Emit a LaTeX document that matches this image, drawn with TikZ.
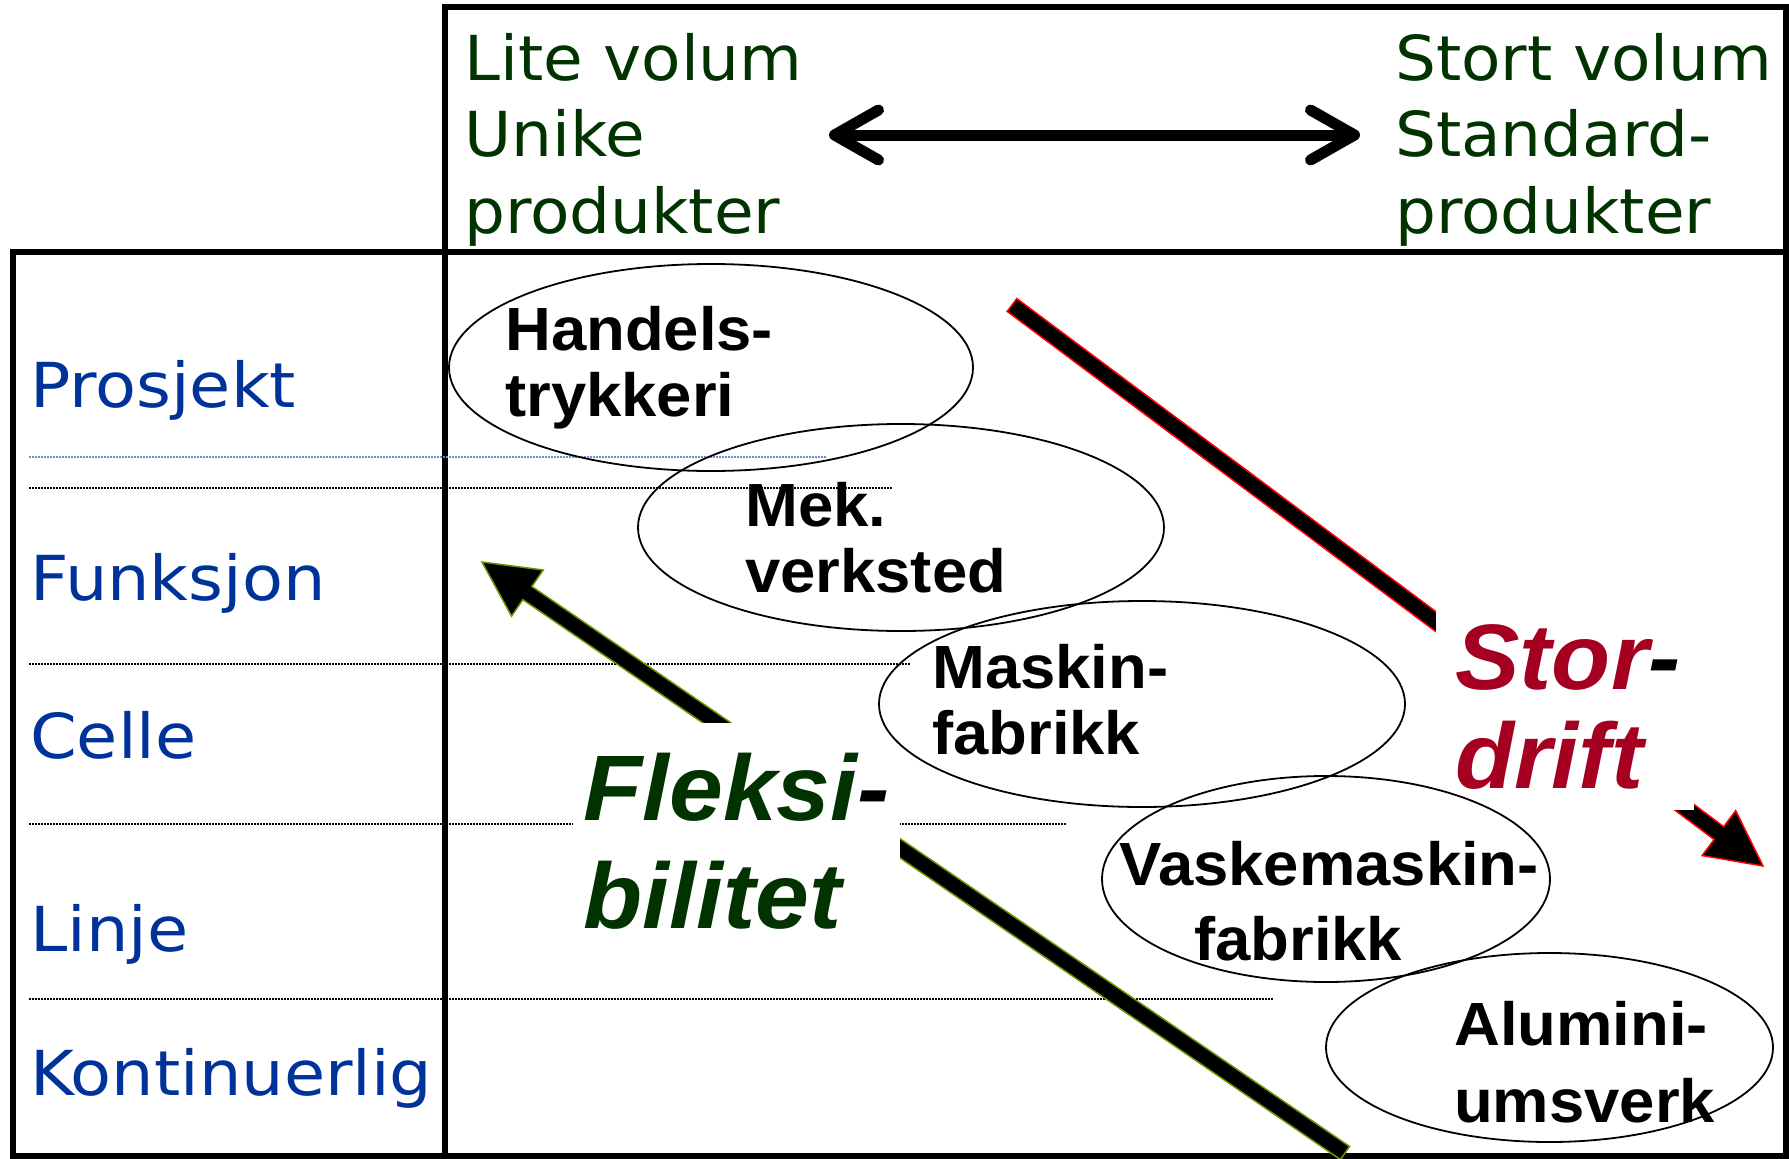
\documentclass[tikz,border=0pt]{standalone}
\usepackage{fontspec}
\usetikzlibrary{arrows.meta,calc,shapes.geometric}
\newfontfamily\headfont{DejaVu Sans}[FakeStretch=1.04]
\newfontfamily\rowfont{DejaVu Sans}[FakeStretch=1.08]
\newfontfamily\boldfont{Liberation Sans}[FakeStretch=1.04]
\definecolor{headgreen}{RGB}{0,51,0}
\definecolor{rowblue}{RGB}{0,51,153}
\definecolor{stordred}{RGB}{165,0,33}
\definecolor{edgegreen}{RGB}{102,153,0}
\definecolor{sepblue}{RGB}{110,140,210}

\begin{document}
\begin{tikzpicture}[x=1pt,y=-1pt,
  frame/.style={line width=6pt, line cap=rect},
  sepline/.style={line width=1.5pt, dash pattern=on 1.5pt off 1.5pt},
  headtext/.style={font=\headfont\fontsize{62}{76.5}\selectfont, text=headgreen,
    inner sep=0pt, anchor=base west, align=left},
  rowlabel/.style={font=\rowfont\fontsize{62}{74}\selectfont, text=rowblue,
    inner sep=0pt, anchor=base west},
  plant/.style={draw, line width=1.8pt, ellipse, inner sep=0pt},
  plantlabel/.style={font=\boldfont\bfseries\fontsize{61}{66}\selectfont,
    inner sep=0pt, anchor=base west, align=left},
  trend/.style={font=\boldfont\bfseries\itshape\fontsize{93}{99}\selectfont,
    align=left, fill=white},
  bigarrow/.style={fill=black, line width=1.5pt, line join=miter}
]
\useasboundingbox (0,0) rectangle (1789,1159);

% table frame
\coordinate (tl) at (445,7);
\coordinate (tr) at (1786,7);
\coordinate (ml) at (13,252);
\coordinate (mr) at (1786,252);
\coordinate (bl) at (13,1156);
\coordinate (bm) at (445,1156);
\coordinate (br) at (1786,1156);
\draw[frame] (tl) -- (tr) -- (br) -- (bl) -- (ml) -- (mr);
\draw[frame] (tl) -- (bm);

% row separators
\draw[sepline, draw=sepblue, line width=2.5pt, dash pattern=on 2pt off 1pt] (29,457) -- (826,457);
\draw[sepline] (29,488) -- (893,488);
\draw[sepline] (29,664) -- (910,664);
\draw[sepline] (29,824) -- (1067,824);
\draw[sepline] (29,999) -- (1274,999);

% column headings (base anchor sits on the last line)
\node[headtext] (lowvol) at (464,233) {Lite volum\\Unike\\produkter};
\node[headtext] (highvol) at (1395,233) {Stort volum\\Standard-\\produkter};
\coordinate (volL) at (829,135);
\coordinate (volR) at (1360,135);
\draw[line width=11pt,
  {Straight Barb[length=44pt,width=50pt,round]}-{Straight Barb[length=44pt,width=50pt,round]}]
  (volL) -- (volR);

% row labels
\node[rowlabel] (prosjekt) at (30,407) {Prosjekt};
\node[rowlabel] (funksjon) at (30,600) {Funksjon};
\node[rowlabel] (celle) at (30,758) {Celle};
\node[rowlabel] (linje) at (30,951) {Linje};
\node[rowlabel] (kontinuerlig) at (30,1095) {Kontinuerlig};

% scale of production: large volume
\coordinate (sdS) at (1012,305);
\coordinate (sdT) at (1763,866);
\coordinate (sdB) at ($(sdT)!55pt!(sdS)$);
\filldraw[bigarrow, draw=red]
  ($(sdS)!8pt!90:(sdT)$) -- ($(sdB)!8pt!90:(sdT)$) -- ($(sdB)!28pt!90:(sdT)$) -- (sdT)
  -- ($(sdB)!28pt!-90:(sdT)$) -- ($(sdB)!8pt!-90:(sdT)$) -- ($(sdS)!8pt!-90:(sdT)$) -- cycle;

% flexibility
\coordinate (flS) at (1345,1153);
\coordinate (flT) at (482,562);
\coordinate (flB) at ($(flT)!55pt!(flS)$);
\filldraw[bigarrow, draw=edgegreen]
  ($(flS)!8pt!90:(flT)$) -- ($(flB)!8pt!90:(flT)$) -- ($(flB)!28pt!90:(flT)$) -- (flT)
  -- ($(flB)!28pt!-90:(flT)$) -- ($(flB)!8pt!-90:(flT)$) -- ($(flS)!8pt!-90:(flT)$) -- cycle;

\node[trend, text=stordred, anchor=south west, inner xsep=13pt, inner ysep=20pt] (stordrift)
  at (1436,810) {\rule{0pt}{85pt}\hspace*{6pt}Stor\textcolor{black}{-}\\\hspace*{6pt}drift};
\node[trend, text=headgreen, anchor=north east, inner xsep=10pt, inner ysep=30pt,
  font=\boldfont\bfseries\itshape\fontsize{93}{108}\selectfont] (fleksi)
  at (900,723) {Fleksi\textcolor{black}{-}\\bilitet};

% plant types
\node[plant, minimum width=524pt, minimum height=207pt] (handel) at (711,367.5) {};
\node[plant, minimum width=526pt, minimum height=207pt] (mek) at (901,527.5) {};
\node[plant, minimum width=526pt, minimum height=206pt] (maskin) at (1142,704) {};
\node[plant, minimum width=448pt, minimum height=206pt] (vaske) at (1326,879) {};
\node[plant, minimum width=447pt, minimum height=189pt] (alu) at (1549.5,1047.5) {};

\node[plantlabel] (handeltxt) at (505,416) {Handels-\\trykkeri};
\node[plantlabel] (mektxt) at (745,592) {Mek.\\verksted};
\node[plantlabel] (maskintxt) at (932,754) {Maskin-\\fabrikk};
\node[plantlabel, font=\boldfont\bfseries\fontsize{61}{75}\selectfont] (vasketxt) at (1119,960)
  {Vaskemaskin-\\\hspace*{75pt}fabrikk};
\node[plantlabel, font=\boldfont\bfseries\fontsize{61}{77}\selectfont] (alutxt) at (1454,1122)
  {Alumini-\\umsverk};
\end{tikzpicture}
\end{document}
